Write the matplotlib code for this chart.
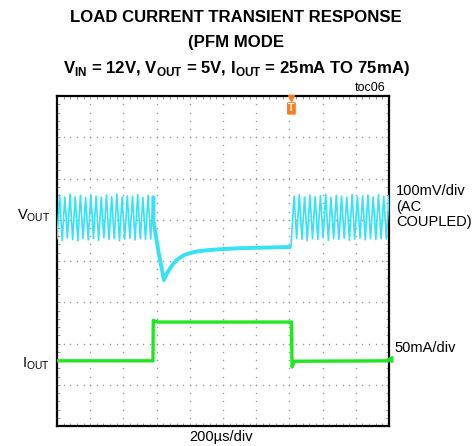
import matplotlib
matplotlib.use("Agg")
import matplotlib.pyplot as plt
import numpy as np

plt.rcParams['font.family'] = ['Liberation Sans', 'DejaVu Sans']
plt.rcParams['mathtext.fontset'] = 'custom'
plt.rcParams['mathtext.rm'] = 'Liberation Sans'
plt.rcParams['mathtext.bf'] = 'Liberation Sans:bold'

# scope screen: 10 x 8 divisions
n_xdiv = 10
n_ydiv = 8

# VOUT ripple before/after the load step (div units)
rip_left = (0.0, 2.90)
rip_left_peaks = [5.60, 5.55, 5.62, 5.56, 5.59, 5.54, 5.61, 5.57, 5.55, 5.60,
                  5.56, 5.62, 5.55, 5.58, 5.57, 5.61, 5.54, 5.59, 5.57]
rip_left_troughs = [4.54, 4.50, 4.56, 4.52, 4.49, 4.55, 4.51, 4.54, 4.50,
                    4.56, 4.52, 4.54, 4.49, 4.53, 4.55, 4.51, 4.54, 4.52, 4.53]
rip_right = (7.06, 10.0)
rip_right_peaks = [5.57, 5.61, 5.55, 5.60, 5.56, 5.58, 5.62, 5.54, 5.59,
                   5.57, 5.55, 5.61, 5.56, 5.58, 5.60, 5.55, 5.61, 5.57, 5.58]
rip_right_troughs = [4.51, 4.55, 4.53, 4.49, 4.54, 4.52, 4.56, 4.50, 4.54,
                     4.52, 4.55, 4.50, 4.53, 4.56, 4.51, 4.54, 4.52, 4.54, 4.53]

# VOUT droop and recovery during the 75mA load
vout_rec_t = [2.90, 3.05, 3.22, 3.30, 3.40, 3.50, 3.60, 3.72, 3.85, 4.00,
              4.20, 4.50, 5.00, 5.50, 6.00, 6.50, 7.05]
vout_rec_v = [5.00, 4.25, 3.54, 3.68, 3.82, 3.93, 4.02, 4.09, 4.15, 4.19,
              4.23, 4.26, 4.29, 4.31, 4.32, 4.33, 4.34]

# IOUT step
iout_t = [0.00, 2.89, 2.90, 2.95, 3.05, 7.05, 7.06, 7.08, 7.15, 10.0]
iout_v = [1.58, 1.58, 2.56, 2.54, 2.52, 2.52, 2.52, 1.43, 1.57, 1.58]

cyan = '#36e2f8'
green = '#22e622'


def ripple(span, peaks, troughs):
    vals = []
    for i in range(len(peaks)):
        vals.append(troughs[i])
        vals.append(peaks[i])
    t = np.linspace(span[0], span[1], len(vals))
    return t, vals


fig = plt.figure(figsize=(4.76, 4.46), dpi=100)
ax = fig.add_axes([57 / 476, 20 / 446, 332 / 476, 330 / 446])
ax.set_xlim(0, n_xdiv)
ax.set_ylim(0, n_ydiv)

# dotted graticule
for k in range(1, n_xdiv):
    yy = np.arange(0.2, n_ydiv, 0.2)
    ax.plot([k] * len(yy), yy, ls='none', marker='o', ms=1.1, mew=0,
            color='#9a9a9a', zorder=1)
for k in range(1, n_ydiv):
    xx = np.arange(0.2, n_xdiv, 0.2)
    ax.plot(xx, [k] * len(xx), ls='none', marker='o', ms=1.1, mew=0,
            color='#9a9a9a', zorder=1)

ax.set_xticks(np.arange(0, n_xdiv + 0.01, 1))
ax.set_yticks(np.arange(0, n_ydiv + 0.01, 1))
ax.set_xticks(np.arange(0, n_xdiv + 0.01, 0.2), minor=True)
ax.set_yticks(np.arange(0, n_ydiv + 0.01, 0.2), minor=True)
ax.tick_params(which='both', direction='in', length=2.5, width=0.6,
               color='#888888', top=True, right=True,
               labelleft=False, labelbottom=False)
for s in ax.spines.values():
    s.set_linewidth(1.6)

# traces
t1, v1 = ripple(rip_left, rip_left_peaks, rip_left_troughs)
t2, v2 = ripple(rip_right, rip_right_peaks, rip_right_troughs)
ax.plot(t1, v1, color=cyan, lw=1.2, zorder=3)
ax.plot(t2, v2, color=cyan, lw=1.2, zorder=3)
ax.plot([t1[-1]] + vout_rec_t, [v1[-1]] + vout_rec_v, color=cyan, lw=2.8,
        zorder=3, solid_capstyle='butt')
ax.plot([vout_rec_t[-1], t2[0]], [vout_rec_v[-1], v2[0]], color=cyan,
        lw=1.2, zorder=3)
ax.plot(iout_t, iout_v, color=green, lw=2.4, zorder=3)
ax.plot([10], [iout_v[-1] + 0.05], marker='<', color=green, ms=5,
        clip_on=False, zorder=4)

# trigger marker
ax.plot([iout_t[6]], [7.94], marker='v', color='#ff7b1c', ms=5,
        clip_on=False, zorder=5)
ax.text(iout_t[6], 7.70, 'T', ha='center', va='center', color='white',
        fontsize=7.5, fontweight='bold', zorder=6,
        bbox=dict(boxstyle='round,pad=0.12', fc='#ff7b1c', ec='none'))

# titles
fig.text(236 / 476, 1 - 18 / 446, 'LOAD CURRENT TRANSIENT RESPONSE',
         ha='center', va='center', fontsize=12.1, fontweight='bold')
fig.text(236 / 476, 1 - 42 / 446, '(PFM MODE', ha='center', va='center',
         fontsize=12.1, fontweight='bold')
fig.text(236 / 476, 1 - 68 / 446,
         r'V$_{\mathbf{IN}}$ = 12V, V$_{\mathbf{OUT}}$ = 5V, '
         r'I$_{\mathbf{OUT}}$ = 25mA TO 75mA)',
         ha='center', va='center', fontsize=12.1, fontweight='bold')
fig.text(386 / 476, 1 - 88 / 446, 'toc06', ha='right', va='center',
         fontsize=9)

# channel labels
fig.text(50 / 476, 1 - 216 / 446, r'V$_{\mathrm{OUT}}$', ha='right',
         va='center', fontsize=10.5)
fig.text(50 / 476, 1 - 364 / 446, r'I$_{\mathrm{OUT}}$', ha='right',
         va='center', fontsize=10.5)
fig.text(396 / 476, 1 - 184 / 446, '100mV/div\n(AC\nCOUPLED)', ha='left',
         va='top', fontsize=10.5, linespacing=1.15)
fig.text(394 / 476, 1 - 348 / 446, '50mA/div', ha='left', va='center',
         fontsize=10.5)
fig.text(221 / 476, 1 - 437 / 446, '200\u00b5s/div', ha='center',
         va='center', fontsize=10.5)

fig.savefig('out.png', dpi=100)
